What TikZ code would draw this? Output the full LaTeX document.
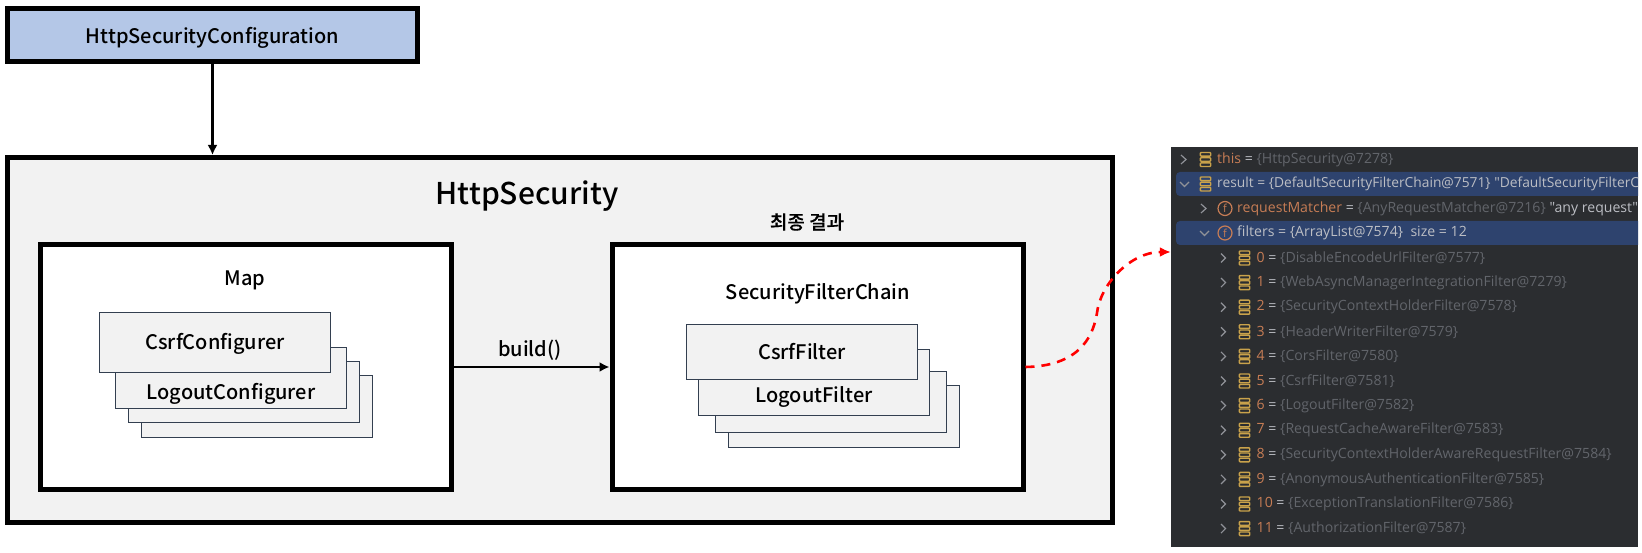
\documentclass[tikz,border=0pt]{standalone}
\usepackage{fontspec}
\setmainfont{Noto Sans CJK KR Medium}
\newfontfamily\krfont[FakeBold=0.3]{Noto Sans CJK KR Medium}
\newfontfamily\dbgfont{Open Sans}
\usetikzlibrary{arrows.meta,positioning}
\definecolor{cfgblue}{HTML}{B4C7E7}
\definecolor{boxgray}{HTML}{F2F2F2}
\definecolor{stackline}{HTML}{333F50}
\definecolor{dbgbg}{HTML}{2B2D30}
\definecolor{dbgsel}{HTML}{2E436E}
\definecolor{dbgorange}{HTML}{C77D55}
\definecolor{dbgtext}{HTML}{BCBEC4}
\definecolor{dbgdim}{HTML}{62656B}
\definecolor{dbgyellow}{HTML}{C9A24B}
\tikzset{
  framebox/.style={draw, line width=5pt, fill=white, inner sep=0pt},
  cfgbox/.style={framebox, fill=cfgblue, font=\fontsize{20}{24}\selectfont},
  stackbox/.style={draw=stackline, line width=1pt, fill=boxgray, minimum width=231pt, inner sep=0pt},
  label/.style={inner sep=0pt, font=\fontsize{20}{24}\selectfont},
  arrow/.style={-{Latex[length=10pt,width=10pt]}, line width=2.4pt},
  redarrow/.style={-{Latex[length=11pt,width=10pt]}, line width=2.6pt, red, dash pattern=on 9pt off 7pt},
  dbgtxt/.style={anchor=west, inner sep=0pt, font=\dbgfont\fontsize{14.1}{17}\selectfont, text=dbgtext},
  chevron/.style={draw=dbgtext!70!dbgbg, line width=1.2pt},
  dbgicon/.pic={
    \foreach \dy in {-5.2,0,5.2}
      \draw[dbgyellow, line width=1.4pt, rounded corners=0.8pt] (-5.2,\dy-1.8) rectangle (5.2,\dy+1.8);
  },
  dbgfield/.pic={
    \node[circle, draw=dbgorange, line width=1.2pt, minimum size=14pt, inner sep=0pt, text=dbgorange, font=\dbgfont\fontsize{11}{13}\selectfont] {f};
  }
}
\begin{document}
\begin{tikzpicture}[x=1pt,y=-1pt]
  \useasboundingbox (0,0) rectangle (1642,553);

  \node[cfgbox, minimum width=410pt, minimum height=53pt] (config) at (212.5,35.5) {\raisebox{-2pt}[\height][\depth]{HttpSecurityConfiguration}};

  \node[framebox, fill=boxgray, minimum width=1105pt, minimum height=365pt] (security) at (560,340) {};
  \node[label, font=\fontsize{30}{36}\selectfont] (securitytitle) at (527,196) {HttpSecurity};

  \node[framebox, minimum width=411pt, minimum height=244pt] (map) at (245.5,367) {};
  \node[label] (maptitle) at (245,280) {Map};

  \node[stackbox, minimum height=61pt] (cfgd) at (257,406.5) {};
  \node[stackbox, minimum height=60pt] (cfgc) at (244,392) {};
  \node[stackbox, minimum height=60pt] (cfgb) at (230.5,378) {};
  \node[stackbox, minimum height=60pt, label] (cfga) at (215,343) {\raisebox{-1pt}[\height][\depth]{CsrfConfigurer}};
  \node[label] (logoutcfg) at (231,393.5) {LogoutConfigurer};

  \node[framebox, minimum width=411pt, minimum height=244pt] (chain) at (817.5,367) {};
  \node[label, font=\krfont\fontsize{19}{22}\selectfont] (finallabel) at (807,222) {최종 결과};
  \node[label] (chaintitle) at (818,294) {SecurityFilterChain};

  \node[stackbox, minimum height=61pt] (filterd) at (843.5,416.5) {};
  \node[stackbox, minimum height=60pt] (filterc) at (831,402) {};
  \node[stackbox, minimum height=65pt] (filterb) at (813.5,382.5) {};
  \node[stackbox, minimum height=55pt, label] (filtera) at (802,352.5) {\raisebox{1pt}[\height][\depth]{CsrfFilter}};
  \node[label] (logoutfilter) at (814,397) {LogoutFilter};

  \draw[arrow] (config.south) -- (config.south |- security.north);
  \draw[arrow] (map.east) -- (chain.west);
  \node[label] (buildlabel) at (530,350) {build()};

  % debugger panel
  \node[fill=dbgbg, minimum width=467pt, minimum height=400pt, inner sep=0pt] (panel) at (1404.5,347) {};
  \begin{scope}
    \clip (panel.north west) rectangle (panel.south east);
    \fill[dbgsel, rounded corners=4pt] (1176,172) rectangle (1660,196);
    \fill[dbgsel, rounded corners=4pt] (1176,221) rectangle (1660,245);

    \draw[chevron] (1181,155) -- (1186,159.5) -- (1181,164);
    \pic at (1205.5,159.5) {dbgicon};
    \node[dbgtxt] (thisrow) at (1217,159.5) {\textcolor{dbgorange}{this} = \textcolor{dbgdim}{\{HttpSecurity@7278\}}};

    \draw[chevron] (1180,182) -- (1184.5,186.5) -- (1189,182);
    \pic at (1205.5,184) {dbgicon};
    \node[dbgtxt, font=\dbgfont\fontsize{13.8}{17}\selectfont] (resultrow) at (1217,184) {result = \{DefaultSecurityFilterChain@7571\} "DefaultSecurityFilterC};

    \draw[chevron] (1201,204) -- (1206,208.5) -- (1201,213);
    \pic at (1225,208.5) {dbgfield};
    \node[dbgtxt] (matcherrow) at (1237,208.5) {\textcolor{dbgorange}{requestMatcher} = \textcolor{dbgdim}{\{AnyRequestMatcher@7216\}} "any request"};

    \draw[chevron] (1200,231) -- (1204.5,235.5) -- (1209,231);
    \pic at (1225,233) {dbgfield};
    \node[dbgtxt] (filtersrow) at (1237,233) {filters = \{ArrayList@7574\}\ \ size = 12};

    \foreach \idx/\cls [count=\i from 0] in {0/DisableEncodeUrlFilter@7577,1/WebAsyncManagerIntegrationFilter@7279,2/SecurityContextHolderFilter@7578,3/HeaderWriterFilter@7579,4/CorsFilter@7580,5/CsrfFilter@7581,6/LogoutFilter@7582,7/RequestCacheAwareFilter@7583,8/SecurityContextHolderAwareRequestFilter@7584,9/AnonymousAuthenticationFilter@7585,10/ExceptionTranslationFilter@7586,11/AuthorizationFilter@7587} {
      \draw[chevron] (1221,258-4.5+24.6*\i) -- (1225.5,258+24.6*\i) -- (1221,258+4.5+24.6*\i);
      \pic at (1244.5,258+24.6*\i) {dbgicon};
      \node[dbgtxt] (filter\idx) at (1256.5,258+24.6*\i) {\textcolor{dbgorange}{\idx} = \textcolor{dbgdim}{\{\cls\}}};
    }
  \end{scope}

  \coordinate (paneltip) at (panel.west |- 0,252);
  \draw[redarrow] (chain.east) .. controls (1085,366) and (1094,330) .. (1097,313) .. controls (1100,285) and (1130,252) .. (paneltip);
\end{tikzpicture}
\end{document}
